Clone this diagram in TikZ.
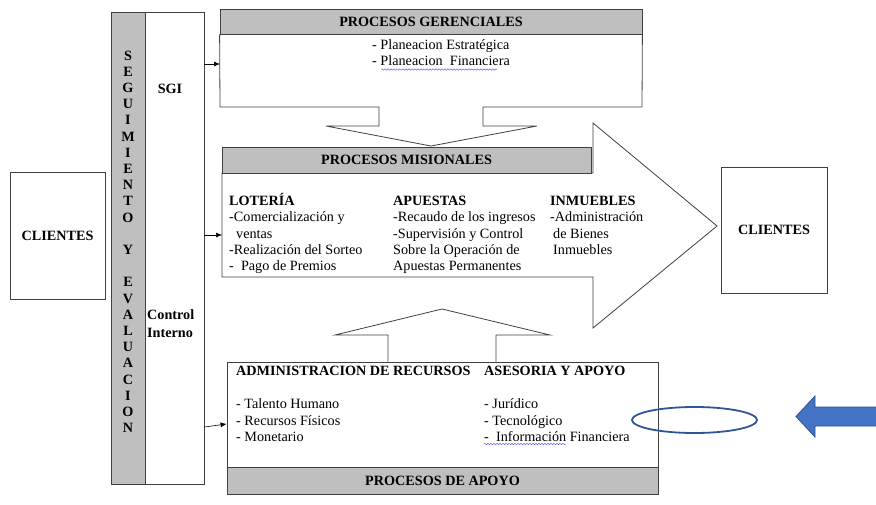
\documentclass[tikz,border=0pt]{standalone}
\usepackage{fontspec}
\setmainfont{Liberation Serif}
\usetikzlibrary{decorations.pathmorphing,arrows.meta}
\definecolor{grisbox}{RGB}{191,191,191}
\definecolor{azulel}{RGB}{47,85,151}
\definecolor{azulfl}{RGB}{68,114,196}
\definecolor{azulbd}{RGB}{47,82,143}

\begin{document}
\begin{tikzpicture}[x=1pt,y=-1pt,font=\fontsize{14.2}{16.5}\selectfont,
	caja/.style={draw=black!75,line width=0.8pt,inner sep=0pt},
	gris/.style={caja,fill=grisbox},
	flecha/.style={-{Latex[length=6pt,width=5pt]},line width=0.6pt},
	linea/.style={anchor=base west,inner sep=0pt},
	subrayado/.style={draw=blue!60,line width=0.5pt,decorate,decoration={snake,amplitude=0.7pt,segment length=3pt}}]
	\useasboundingbox (0,0) rectangle (876,504);
	
	%CLIENTES
	\node[caja,minimum width=95,minimum height=127] (cliIzq) at (57.5,235.5) {\textbf{CLIENTES}};
	\node[caja,minimum width=106,minimum height=126] (cliDer) at (774,230) {\textbf{CLIENTES}};
	
	%SEGUIMIENTO Y EVALUACION -- SGI
	\node[gris,minimum width=34,minimum height=472] (barra) at (128,248) {};
	\node[caja,minimum width=59,minimum height=472] (sgiCaja) at (174.5,248) {};
	\foreach \l [count=\i] in {S,E,G,U,I,M,I,E,N,T,O,{},Y,{},E,V,A,L,U,A,C,I,O,N}
		\node[anchor=base,inner sep=0pt] (letra\i) at (128,60+16.2*\i-16.2) {\textbf{\l}};
	\node[anchor=base,inner sep=0pt] (sgi) at (170,93) {\textbf{SGI}};
	\node[linea] (ci1) at (147,319) {\textbf{Control}};
	\node[linea] (ci2) at (147,337) {\textbf{Interno}};
	
	%PROCESOS GERENCIALES
	\node[gris,minimum width=422,minimum height=25] (gerTit) at (431,21.5) {\textbf{PROCESOS GERENCIALES}};
	\draw[caja] (gerTit.south west) -- (220,107) -- (379,107) -- (379,126) -- (326,126) -- (431,146) -- (537,126) -- (483,126) -- (483,107) -- (642,107) -- (gerTit.south east);
	\node[linea] (ger1) at (372,49.5) {- Planeacion Estratégica};
	\node[linea] (ger2) at (372,65.5) {- Planeacion\ \ Financiera};
	\draw[subrayado] (381,69.5) -- (497,69.5);
	
	%PROCESOS MISIONALES
	\draw[caja,fill=white] (222,173) -- (593,173) -- (593,123) -- (717,226) -- (593,328) -- (593,277) -- (222,277) -- cycle;
	\node[gris,minimum width=369,minimum height=26] (misTit) at (406.5,160) {\textbf{PROCESOS MISIONALES}};
	\foreach \t [count=\i] in {\textbf{LOTERÍA},-Comercialización y,\hspace{7pt}ventas,-Realización del Sorteo,-\ \ Pago de Premios}
		\node[linea] (lot\i) at (229,189.5+16.2*\i) {\t};
	\foreach \t [count=\i] in {\textbf{APUESTAS},-Recaudo de los ingresos,-Supervisión y Control,Sobre la Operación de,Apuestas Permanentes}
		\node[linea] (apu\i) at (393,189.5+16.2*\i) {\t};
	\foreach \t [count=\i] in {\textbf{INMUEBLES},-Administración,\hspace{3pt}de Bienes,\hspace{3pt}Inmuebles}
		\node[linea] (inm\i) at (550,189.5+16.2*\i) {\t};
	
	%PROCESOS DE APOYO
	\node[caja,minimum width=431,minimum height=132] (apoyo) at (442.5,428) {};
	\draw[caja] (apoyo.north -| 388,0) -- (388,335) -- (335,335) -- (442,309) -- (550,335) -- (496,335) -- (apoyo.north -| 496,0);
	\node[gris,minimum width=431,minimum height=27] (apoyoPie) at (442.5,480.5) {\textbf{PROCESOS DE APOYO}};
	\foreach \t [count=\i] in {\textbf{ADMINISTRACION DE RECURSOS},{},- Talento Humano,- Recursos Físicos,- Monetario}
		\node[linea] (adm\i) at (236,359.5+16.4*\i) {\t};
	\foreach \t [count=\i] in {\textbf{ASESORIA Y APOYO},{},- Jurídico,- Tecnológico,-\ \ Información Financiera}
		\node[linea] (ase\i) at (484,359.5+16.4*\i) {\t};
	\draw[subrayado] (484,444) -- (566,444);
	
	%ARROWS
	\coordinate (gerW) at (220,64);
	\coordinate (misW) at (222,235);
	\coordinate (apoW) at (apoyo.west |- 0,424);
	\draw[flecha] (sgiCaja.east |- gerW) -- (gerW);
	\draw[flecha] (sgiCaja.east |- misW) -- (misW);
	\draw[flecha] (sgiCaja.east |- 0,427) -- (apoW);
	
	%MARK
	\draw[azulel,line width=1.8pt] (694.5,420) ellipse [x radius=62.5,y radius=13];
	\draw[draw=azulbd,fill=azulfl,line width=0.8pt] (880,407) -- (815,407) -- (815,396) -- (796,416.5) -- (815,437) -- (815,426) -- (880,426);
	
\end{tikzpicture}
\end{document}
